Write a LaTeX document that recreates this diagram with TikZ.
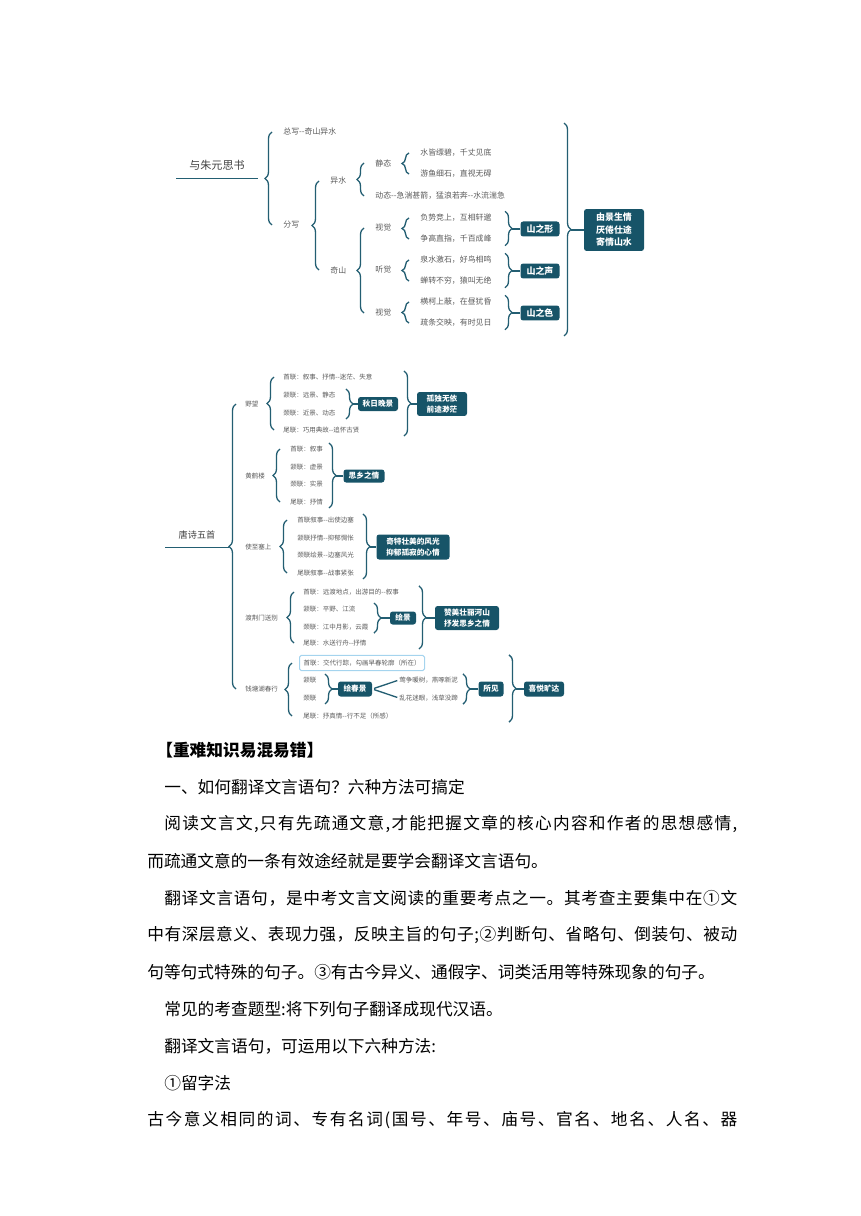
\documentclass[tikz,border=0pt]{standalone}
\usepackage{fontspec}
\setmainfont{Noto Sans CJK SC}
\usetikzlibrary{decorations.pathreplacing}

\definecolor{mapline}{RGB}{35,94,114}
\definecolor{mapbox}{RGB}{23,84,104}
\definecolor{maptext}{RGB}{90,90,90}
\definecolor{selframe}{RGB}{165,212,238}

% spread the characters of one line over a given width
\makeatletter
\newcommand\fullline[2]{\hbox to #1{\fl@step#2\relax}}
\def\fl@step#1{#1\futurelet\fl@next\fl@test}
\def\fl@test{\ifx\fl@next\relax\expandafter\fl@stop\else\hfil\expandafter\fl@step\fi}
\def\fl@stop\relax{}
\makeatother

\begin{document}
\begin{tikzpicture}[
        x=0.02cm, y=-0.02cm,
        leaf/.style={anchor=west, inner xsep=0pt, inner ysep=1.5pt, text=maptext, font=\fontsize{4.5}{5}\selectfont},
        twig/.style={leaf, font=\fontsize{3.7}{4}\selectfont},
        topic/.style={inner sep=0pt, text=black!75},
        sumbox/.style={fill=mapbox, text=white, rounded corners=1.5pt, inner sep=0pt, align=center, font=\bfseries\fontsize{5.1}{7.1}\selectfont},
        smallbox/.style={sumbox, font=\bfseries\fontsize{4.35}{6}\selectfont},
        lbr/.style={draw=mapline, line width=0.75pt, decorate, decoration={brace, amplitude=0.14cm}},
        rbr/.style={lbr},
        link/.style={draw=mapline, line width=0.75pt},
        uline/.style={draw=mapline, line width=0.9pt},
        body/.style={anchor=west, inner sep=0pt, font=\fontsize{9.5}{11}\selectfont}
    ]
        \useasboundingbox (0,0) rectangle (860,1216);

        % 与朱元思书
        \node[topic, font=\fontsize{6.3}{7}\selectfont, minimum width=1.62cm, minimum height=0.52cm] (yzys) at (217,165) {与朱元思书};
        \draw[uline] (yzys.south west) -- (yzys.south east);

        \node[leaf] (zx) at (283,132) {总写-{}-奇山异水};
        \node[leaf] (fx) at (283,225) {分写};
        \node[leaf] (ys) at (330,181) {异水};
        \node[leaf] (qs) at (330,270) {奇山};
        \node[leaf] (jt) at (375,163) {静态};
        \node[leaf] (dt) at (375,196) {动态-{}-急湍甚箭，猛浪若奔-{}-水流湍急};
        \node[leaf] (sj1) at (375,228) {视觉};
        \node[leaf] (tj) at (375,270) {听觉};
        \node[leaf] (sj2) at (375,313) {视觉};
        \node[leaf] (a1) at (420,153) {水皆缥碧，千丈见底};
        \node[leaf] (a2) at (420,174) {游鱼细石，直视无碍};
        \node[leaf] (b1) at (420,218) {负势竞上，互相轩邈};
        \node[leaf] (b2) at (420,239) {争高直指，千百成峰};
        \node[leaf] (c1) at (420,260) {泉水激石，好鸟相鸣};
        \node[leaf] (c2) at (420,281) {蝉转不穷，猿叫无绝};
        \node[leaf] (d1) at (420,302) {横柯上蔽，在昼犹昏};
        \node[leaf] (d2) at (420,323) {疏条交映，有时见日};

        \draw[lbr] (272,0 |- fx) -- (272,0 |- zx);
        \draw[lbr] (319,0 |- qs) -- (319,0 |- ys);
        \draw[lbr] (364,0 |- dt) -- (364,0 |- jt);
        \draw[lbr] (364,0 |- sj2) -- (364,0 |- sj1);
        \draw[lbr] (409,0 |- a2) -- (409,0 |- a1);
        \draw[lbr] (409,0 |- b2) -- (409,0 |- b1);
        \draw[lbr] (409,0 |- c2) -- (409,0 |- c1);
        \draw[lbr] (409,0 |- d2) -- (409,0 |- d1);

        \node[sumbox, minimum width=0.78cm, minimum height=0.3cm] (szx) at (540,229) {山之形};
        \node[sumbox, minimum width=0.78cm, minimum height=0.3cm] (szs) at (540,271) {山之声};
        \node[sumbox, minimum width=0.78cm, minimum height=0.3cm] (szse) at (540,313) {山之色};
        \node[sumbox, minimum width=1.2cm, minimum height=0.84cm] (yjsq) at (614,230) {由景生情\\厌倦仕途\\寄情山水};

        \draw[rbr] (505,0 |- b1.north) -- (505,0 |- b2.south);
        \draw[rbr] (505,0 |- c1.north) -- (505,0 |- c2.south);
        \draw[rbr] (505,0 |- d1.north) -- (505,0 |- d2.south);
        \draw[link] (szx.west) -- (szx.west -| 512,0);
        \draw[link] (szs.west) -- (szs.west -| 512,0);
        \draw[link] (szse.west) -- (szse.west -| 512,0);
        \draw[rbr] (564,123) -- (564,336);
        \draw[link] (yjsq.west) -- (yjsq.west -| 571,0);

        % 唐诗五首
        \node[topic, font=\fontsize{5.2}{6}\selectfont, minimum width=1.26cm, minimum height=0.48cm] (tswz) at (197,535) {唐诗五首};
        \draw[uline] (tswz.south west) -- (tswz.south east);

        \node[twig] (ym) at (245,404) {野望};
        \node[twig] (hhl) at (245,476) {黄鹤楼};
        \node[twig] (szss) at (245,547) {使至塞上};
        \node[twig] (djm) at (245,618) {渡荆门送别};
        \node[twig] (qth) at (245,689) {钱塘湖春行};
        \draw[lbr] (236,0 |- qth) -- (236,0 |- ym);

        \node[twig] (ym1) at (283,377) {首联：叙事、抒情-{}-迷茫、失意};
        \node[twig] (ym2) at (283,395) {颔联：远景、静态};
        \node[twig] (ym3) at (283,413) {颈联：近景、动态};
        \node[twig] (ym4) at (283,430) {尾联：巧用典故-{}-追怀古贤};
        \draw[lbr] (274,0 |- ym4) -- (274,0 |- ym1);
        \node[smallbox, minimum width=0.8cm, minimum height=0.28cm] (qrwj) at (378,404) {秋日晚景};
        \draw[rbr] (346,0 |- ym2.north) -- (346,0 |- ym3.south);
        \draw[link] (qrwj.west) -- (qrwj.west -| 353,0);
        \node[smallbox, minimum width=1.0cm, minimum height=0.48cm] (gdwy) at (442,404) {孤独无依\\前途渺茫};
        \draw[rbr] (404,0 |- ym1.north) -- (404,0 |- ym4.south);
        \draw[link] (gdwy.west) -- (gdwy.west -| 411,0);

        \node[twig] (hh1) at (290,449) {首联：叙事};
        \node[twig] (hh2) at (290,467) {颔联：虚景};
        \node[twig] (hh3) at (290,484) {颈联：实景};
        \node[twig] (hh4) at (290,502) {尾联：抒情};
        \draw[lbr] (280,0 |- hh4) -- (280,0 |- hh1);
        \node[smallbox, minimum width=0.82cm, minimum height=0.26cm] (sxzq) at (364,476) {思乡之情};
        \draw[rbr] (329,0 |- hh1.north) -- (329,0 |- hh4.south);
        \draw[link] (sxzq.west) -- (sxzq.west -| 336,0);

        \node[twig] (ss1) at (297,520) {首联叙事-{}-出使边塞};
        \node[twig] (ss2) at (297,538) {颔联抒情-{}-抑郁惆怅};
        \node[twig] (ss3) at (297,555) {颈联绘景-{}-边塞风光};
        \node[twig] (ss4) at (297,573) {尾联叙事-{}-战事紧张};
        \draw[lbr] (287,0 |- ss4) -- (287,0 |- ss1);
        \node[smallbox, minimum width=1.46cm, minimum height=0.5cm] (qtzm) at (413,547) {奇特壮美的风光\\抑郁孤寂的心情};
        \draw[rbr] (363,0 |- ss1.north) -- (363,0 |- ss4.south);
        \draw[link] (qtzm.west) -- (qtzm.west -| 370,0);

        \node[twig] (dj1) at (303,592) {首联：远渡地点，出游目的-{}-叙事};
        \node[twig] (dj2) at (303,609) {颔联：平野、江流};
        \node[twig] (dj3) at (303,627) {颈联：江中月影，云霞};
        \node[twig] (dj4) at (303,643) {尾联：水送行舟-{}-抒情};
        \draw[lbr] (294,0 |- dj4) -- (294,0 |- dj1);
        \node[smallbox, minimum width=0.52cm, minimum height=0.26cm] (hj) at (403,618) {绘景};
        \draw[rbr] (374,0 |- dj2.north) -- (374,0 |- dj3.south);
        \draw[link] (hj.west) -- (hj.west -| 381,0);
        \node[smallbox, minimum width=1.28cm, minimum height=0.48cm] (zmzl) at (467,618) {赞美壮丽河山\\抒发思乡之情};
        \draw[rbr] (419,0 |- dj1.north) -- (419,0 |- dj4.south);
        \draw[link] (zmzl.west) -- (zmzl.west -| 426,0);

        \node[twig, draw=selframe, line width=0.6pt, rounded corners=1pt, inner xsep=0.08cm, inner ysep=0.09cm] (qt1) at (299,663) {首联：交代行踪，勾画早春轮廓（所在）};
        \node[twig] (qt2) at (303,680) {颔联};
        \node[twig] (qt3) at (303,698) {颈联};
        \node[twig] (qt4) at (303,716) {尾联：抒真情-{}-行不足（所感）};
        \draw[lbr] (292,0 |- qt4) -- (292,0 |- qt1);
        \node[smallbox, minimum width=0.68cm, minimum height=0.3cm] (hcj) at (355,689) {绘春景};
        \draw[rbr] (325,0 |- qt2.north) -- (325,0 |- qt3.south);
        \draw[link] (hcj.west) -- (hcj.west -| 332,0);
        \node[twig] (yz) at (399,680) {莺争暖树，燕啄新泥};
        \node[twig] (lh) at (399,698) {乱花迷眼，浅草没蹄};
        \draw[link, shorten <=1pt, shorten >=1pt] (hcj.east) -- (yz.west);
        \draw[link, shorten <=1pt, shorten >=1pt] (hcj.east) -- (lh.west);
        \node[smallbox, minimum width=0.5cm, minimum height=0.3cm] (sj) at (491,689) {所见};
        \draw[rbr] (463,0 |- yz.north) -- (463,0 |- lh.south);
        \draw[link] (sj.west) -- (sj.west -| 470,0);
        \node[smallbox, minimum width=0.8cm, minimum height=0.3cm] (xykd) at (544,689) {喜悦旷达};
        \draw[rbr] (509,0 |- qt1.north) -- (509,0 |- qt4.south);
        \draw[link] (xykd.west) -- (xykd.west -| 516,0);

        % text below
        \node[body, font=\bfseries\fontsize{9.5}{11}\selectfont] (head) at (156,750) {【重难知识易混易错】};
        \node[body] (p1) at (164,787) {一、如何翻译文言语句？六种方法可搞定};
        \node[body] (p2) at (164,824) {\fullline{11.46cm}{阅读文言文,只有先疏通文意,才能把握文章的核心内容和作者的思想感情,}};
        \node[body] (p3) at (147,861) {而疏通文意的一条有效途经就是要学会翻译文言语句。};
        \node[body] (p4) at (164,898) {\fullline{11.46cm}{翻译文言语句，是中考文言文阅读的重要考点之一。其考查主要集中在①文}};
        \node[body] (p5) at (147,935) {\fullline{11.8cm}{中有深层意义、表现力强，反映主旨的句子;②判断句、省略句、倒装句、被动}};
        \node[body] (p6) at (147,972) {句等句式特殊的句子。③有古今异义、通假字、词类活用等特殊现象的句子。};
        \node[body] (p7) at (164,1009) {常见的考查题型:将下列句子翻译成现代汉语。};
        \node[body] (p8) at (164,1046) {翻译文言语句，可运用以下六种方法:};
        \node[body] (p9) at (164,1083) {①留字法};
        \node[body] (p10) at (147,1120) {\fullline{11.8cm}{古今意义相同的词、专有名词(国号、年号、庙号、官名、地名、人名、器}};
    \end{tikzpicture}
\end{document}
